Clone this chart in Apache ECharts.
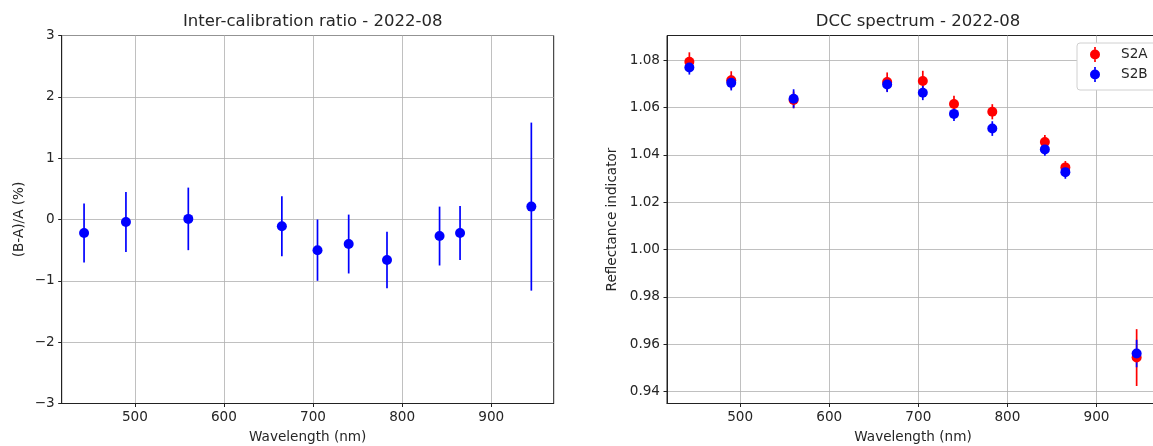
<!DOCTYPE html>
<html>
<head>
<meta charset="utf-8">
<script src="https://cdn.jsdelivr.net/npm/echarts@6/dist/echarts.min.js"></script>
<style>
html,body{margin:0;padding:0;background:#fff;}
#chart{width:1153px;height:446px;}
</style>
</head>
<body>
<div id="chart"></div>
<script>
// ---- data ----
const wavelengths = [443, 490, 560, 665, 705, 740, 783, 842, 865, 945];
const ratio    = [-0.22, -0.04, 0.01, -0.11, -0.50, -0.40, -0.66, -0.27, -0.22, 0.21];
const ratioErr = [0.48, 0.49, 0.51, 0.49, 0.50, 0.48, 0.46, 0.48, 0.44, 1.37];
const s2a    = [1.0793, 1.0715, 1.0632, 1.0708, 1.0712, 1.0615, 1.0582, 1.0454, 1.0347, 0.9544];
const s2aErr = [0.0040, 0.0038, 0.0035, 0.0040, 0.0043, 0.0035, 0.0032, 0.0030, 0.0027, 0.0120];
const s2b    = [1.0769, 1.0704, 1.0637, 1.0697, 1.0662, 1.0573, 1.0511, 1.0423, 1.0327, 0.9561];
const s2bErr = [0.0030, 0.0032, 0.0040, 0.0032, 0.0031, 0.0030, 0.0031, 0.0027, 0.0028, 0.0058];
const xTicks = [500, 600, 700, 800, 900];
const yTicksRight = [0.94, 0.96, 0.98, 1.00, 1.02, 1.04, 1.06, 1.08];

const FONT = 'DejaVu Sans';
const TXT = '#262626';
const fs = 13.6;
const ICON = 'path://M4.15,0 L5.85,0 L5.85,15 L4.15,15 Z M0,7.5 A5,5 0 1,1 10,7.5 A5,5 0 1,1 0,7.5 Z';

function errData(v, e) { return wavelengths.map((w, i) => [w, v[i], e[i]]); }
function ptData(v) { return wavelengths.map((w, i) => [w, v[i]]); }
function errRender(color) {
  return function (params, api) {
    const x = api.value(0), y = api.value(1), e = api.value(2);
    const p1 = api.coord([x, y + e]);
    const p2 = api.coord([x, y - e]);
    return { type: 'line', shape: { x1: p1[0], y1: p1[1], x2: p2[0], y2: p2[1] },
             style: { stroke: color, lineWidth: 1.7 } };
  };
}

function xAxis(gridIndex) {
  return {
    type: 'value', gridIndex: gridIndex, min: 417.9, max: 970.1,
    name: 'Wavelength (nm)', nameLocation: 'middle', nameGap: 27,
    nameTextStyle: { fontFamily: FONT, fontSize: fs, color: TXT },
    axisLine: { show: true, onZero: false, lineStyle: { color: '#222', width: 1 } },
    axisTick: { show: true, length: 3.5, customValues: xTicks, lineStyle: { color: '#222', width: 1 } },
    axisLabel: { customValues: xTicks, fontFamily: FONT, fontSize: fs, color: TXT, margin: 7 },
    splitLine: { show: true, lineStyle: { color: '#b0b0b0', width: 0.8 } }
  };
}

const option = {
  animation: false,
  backgroundColor: '#fff',
  title: [
    { text: 'Inter-calibration ratio - 2022-08', left: 307.7, top: 8.5, textAlign: 'center',
      textStyle: { fontFamily: FONT, fontSize: 16.5, fontWeight: 'normal', color: TXT } },
    { text: 'DCC spectrum - 2022-08', left: 913, top: 8.5, textAlign: 'center',
      textStyle: { fontFamily: FONT, fontSize: 16.5, fontWeight: 'normal', color: TXT } }
  ],
  legend: {
    orient: 'vertical', left: 1077, top: 43,
    padding: [4, 12, 8, 13], itemGap: 5, itemWidth: 10, itemHeight: 15,
    backgroundColor: '#fff', borderColor: '#d0d0d0', borderWidth: 1, borderRadius: 3,
    textStyle: { fontFamily: FONT, fontSize: fs, color: TXT, padding: [0, 0, 0, 16] },
    data: [ { name: 'S2A', icon: ICON }, { name: 'S2B', icon: ICON } ]
  },
  grid: [
    { left: 61.7, top: 35.5, width: 492, height: 368, show: true, borderColor: '#222', borderWidth: 1,
      backgroundColor: 'transparent', outerBoundsMode: 'none', containLabel: false },
    { left: 667, top: 35.5, width: 492, height: 368, show: true, borderColor: '#222', borderWidth: 1,
      backgroundColor: 'transparent', outerBoundsMode: 'none', containLabel: false }
  ],
  xAxis: [xAxis(0), xAxis(1)],
  yAxis: [
    {
      type: 'value', gridIndex: 0, min: -3, max: 3, interval: 1,
      name: '(B-A)/A (%)', nameLocation: 'middle', nameGap: 35, nameRotate: 90,
      nameTextStyle: { fontFamily: FONT, fontSize: fs, color: TXT },
      axisLine: { show: true, onZero: false, lineStyle: { color: '#222', width: 1 } },
      axisTick: { show: true, length: 3.5, lineStyle: { color: '#222', width: 1 } },
      axisLabel: { fontFamily: FONT, fontSize: fs, color: TXT, margin: 7,
                   formatter: v => String(v).replace('-', '\u2212') },
      splitLine: { show: true, lineStyle: { color: '#b0b0b0', width: 0.8 } }
    },
    {
      type: 'value', gridIndex: 1, min: 0.935, max: 1.0904,
      name: 'Reflectance indicator', nameLocation: 'middle', nameGap: 48, nameRotate: 90,
      nameTextStyle: { fontFamily: FONT, fontSize: fs, color: TXT },
      axisLine: { show: true, onZero: false, lineStyle: { color: '#222', width: 1 } },
      axisTick: { show: true, length: 3.5, customValues: yTicksRight, lineStyle: { color: '#222', width: 1 } },
      axisLabel: { customValues: yTicksRight, fontFamily: FONT, fontSize: fs, color: TXT, margin: 7,
                   formatter: v => v.toFixed(2) },
      splitLine: { show: true, lineStyle: { color: '#b0b0b0', width: 0.8 } }
    }
  ],
  series: [
    { type: 'custom', name: 'ratio-err', xAxisIndex: 0, yAxisIndex: 0, data: errData(ratio, ratioErr),
      renderItem: errRender('#0000ff'), itemStyle: { color: '#0000ff' }, silent: true },
    { type: 'scatter', name: 'ratio', xAxisIndex: 0, yAxisIndex: 0, data: ptData(ratio),
      symbol: 'circle', symbolSize: 10, itemStyle: { color: '#0000ff', opacity: 1 } },
    { type: 'custom', name: 'S2A', xAxisIndex: 1, yAxisIndex: 1, data: errData(s2a, s2aErr),
      renderItem: errRender('#ff0000'), itemStyle: { color: '#ff0000' }, silent: true },
    { type: 'scatter', name: 'S2A', xAxisIndex: 1, yAxisIndex: 1, data: ptData(s2a),
      symbol: 'circle', symbolSize: 10, itemStyle: { color: '#ff0000', opacity: 1 } },
    { type: 'custom', name: 'S2B', xAxisIndex: 1, yAxisIndex: 1, data: errData(s2b, s2bErr),
      renderItem: errRender('#0000ff'), itemStyle: { color: '#0000ff' }, silent: true },
    { type: 'scatter', name: 'S2B', xAxisIndex: 1, yAxisIndex: 1, data: ptData(s2b),
      symbol: 'circle', symbolSize: 10, itemStyle: { color: '#0000ff', opacity: 1 } }
  ]
};

const chart = echarts.init(document.getElementById('chart'), null, { renderer: 'canvas' });
chart.setOption(option);
</script>
</body>
</html>
